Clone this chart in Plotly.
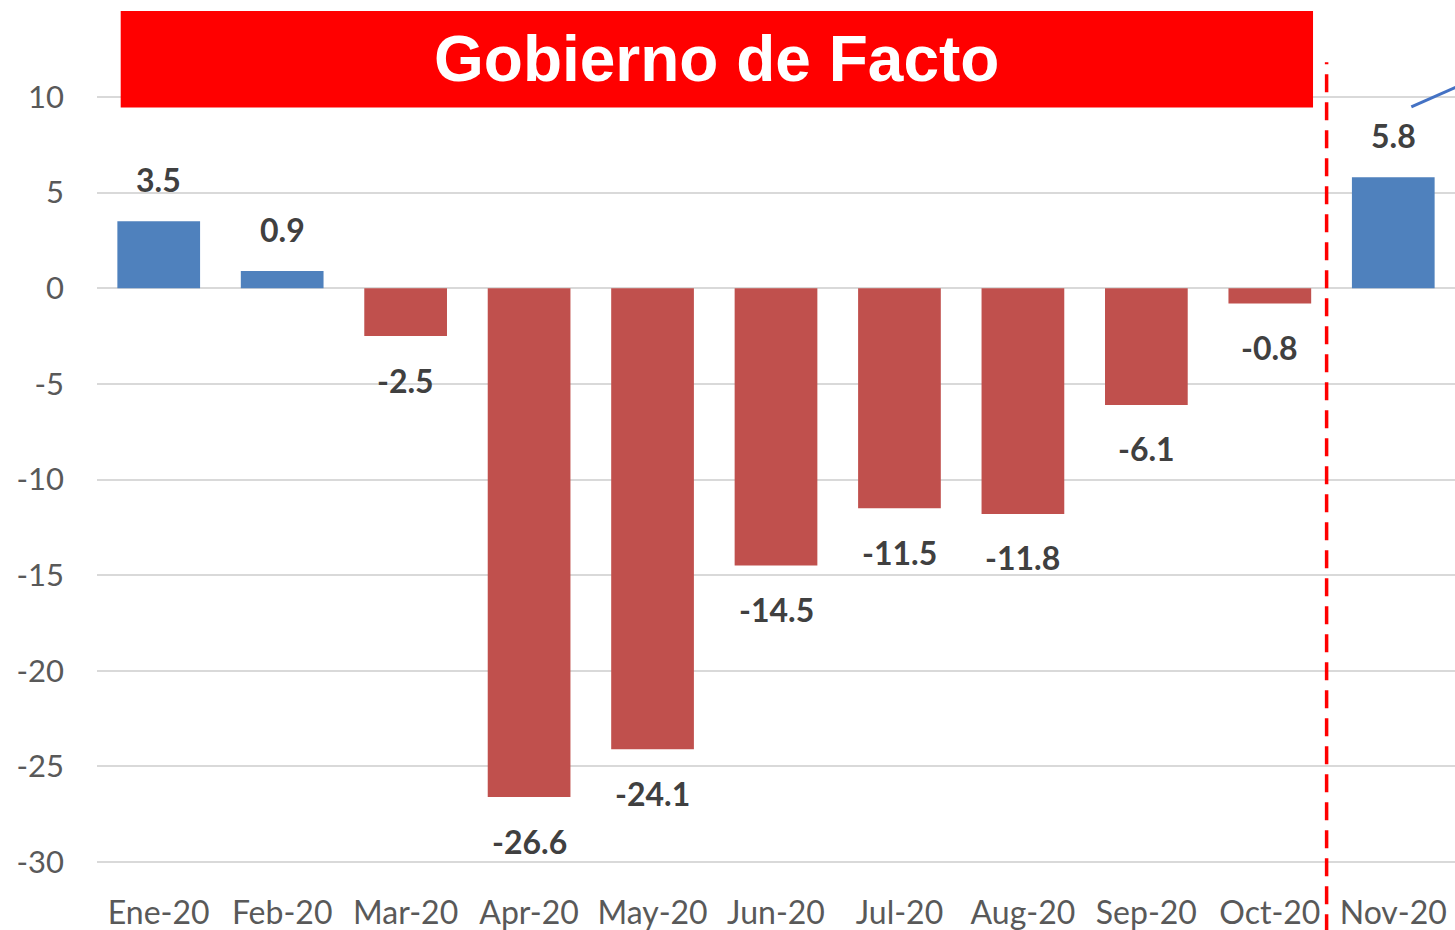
import plotly.graph_objects as go

months = ["Ene-20", "Feb-20", "Mar-20", "Apr-20", "May-20", "Jun-20",
          "Jul-20", "Aug-20", "Sep-20", "Oct-20", "Nov-20"]
values = [3.5, 0.9, -2.5, -26.6, -24.1, -14.5, -11.5, -11.8, -6.1, -0.8, 5.8]
y_ticks = [10, 5, 0, -5, -10, -15, -20, -25, -30]
title_text = "Gobierno de Facto"

BLUE = "#4F81BD"
RED = "#C0504D"
colors = [BLUE if v >= 0 else RED for v in values]
xidx = list(range(len(months)))

fig = go.Figure()
fig.add_trace(go.Bar(
    x=xidx, y=values, marker_color=colors, width=0.67,
    marker_line_width=0, showlegend=False, hoverinfo="skip"))

for i, v in zip(xidx, values):
    fig.add_annotation(
        x=i, y=v, xref="x", yref="y", text=f"{v:.1f}", showarrow=False,
        yshift=42 if v >= 0 else -44, yanchor="middle",
        font=dict(family="Lato", size=32, color="#404040", weight="bold"))

# title box
fig.add_shape(type="rect", xref="x", yref="y", x0=-0.308, x1=9.35, y0=9.45, y1=14.5,
              fillcolor="#FF0000", line_width=0, layer="above")
fig.add_annotation(x=(-0.308 + 9.35) / 2, y=(9.45 + 14.5) / 2, xref="x", yref="y",
                   text=title_text, showarrow=False, yanchor="middle",
                   font=dict(family="Liberation Sans", size=64, color="white", weight="bold"))

# dashed separator
fig.add_shape(type="line", xref="x", yref="paper", x0=9.46, x1=9.46, y0=-0.06, y1=0.94,
              line=dict(color="#FF0000", width=3.5, dash="18px,10px"), layer="above")

# partial blue line at top right
fig.add_shape(type="line", xref="x", yref="y", x0=10.146, x1=10.52, y0=9.48, y1=10.55,
              line=dict(color="#4472C4", width=3), layer="above")

fig.update_layout(
    width=1455, height=930,
    margin=dict(l=97, r=0, t=10, b=50),
    plot_bgcolor="white", paper_bgcolor="white",
    xaxis=dict(range=[-0.5, 10.5], tickmode="array", tickvals=xidx, ticktext=months,
               showgrid=False, zeroline=False, showline=False, ticks="",
               tickfont=dict(family="Lato", size=32, color="#595959"),
               ticklabelstandoff=11),
    yaxis=dict(range=[-30.94, 14.55], tickmode="array", tickvals=y_ticks,
               ticktext=[str(t) for t in y_ticks],
               showgrid=True, gridcolor="#D9D9D9", gridwidth=2,
               zeroline=True, zerolinecolor="#D9D9D9", zerolinewidth=2,
               showline=False, ticks="",
               tickfont=dict(family="Lato", size=31, color="#595959"),
               ticklabelstandoff=32),
)

fig.write_html("out.html", config={"displayModeBar": False},
               post_script="document.body.style.margin='0px';document.body.style.overflow='hidden';")
